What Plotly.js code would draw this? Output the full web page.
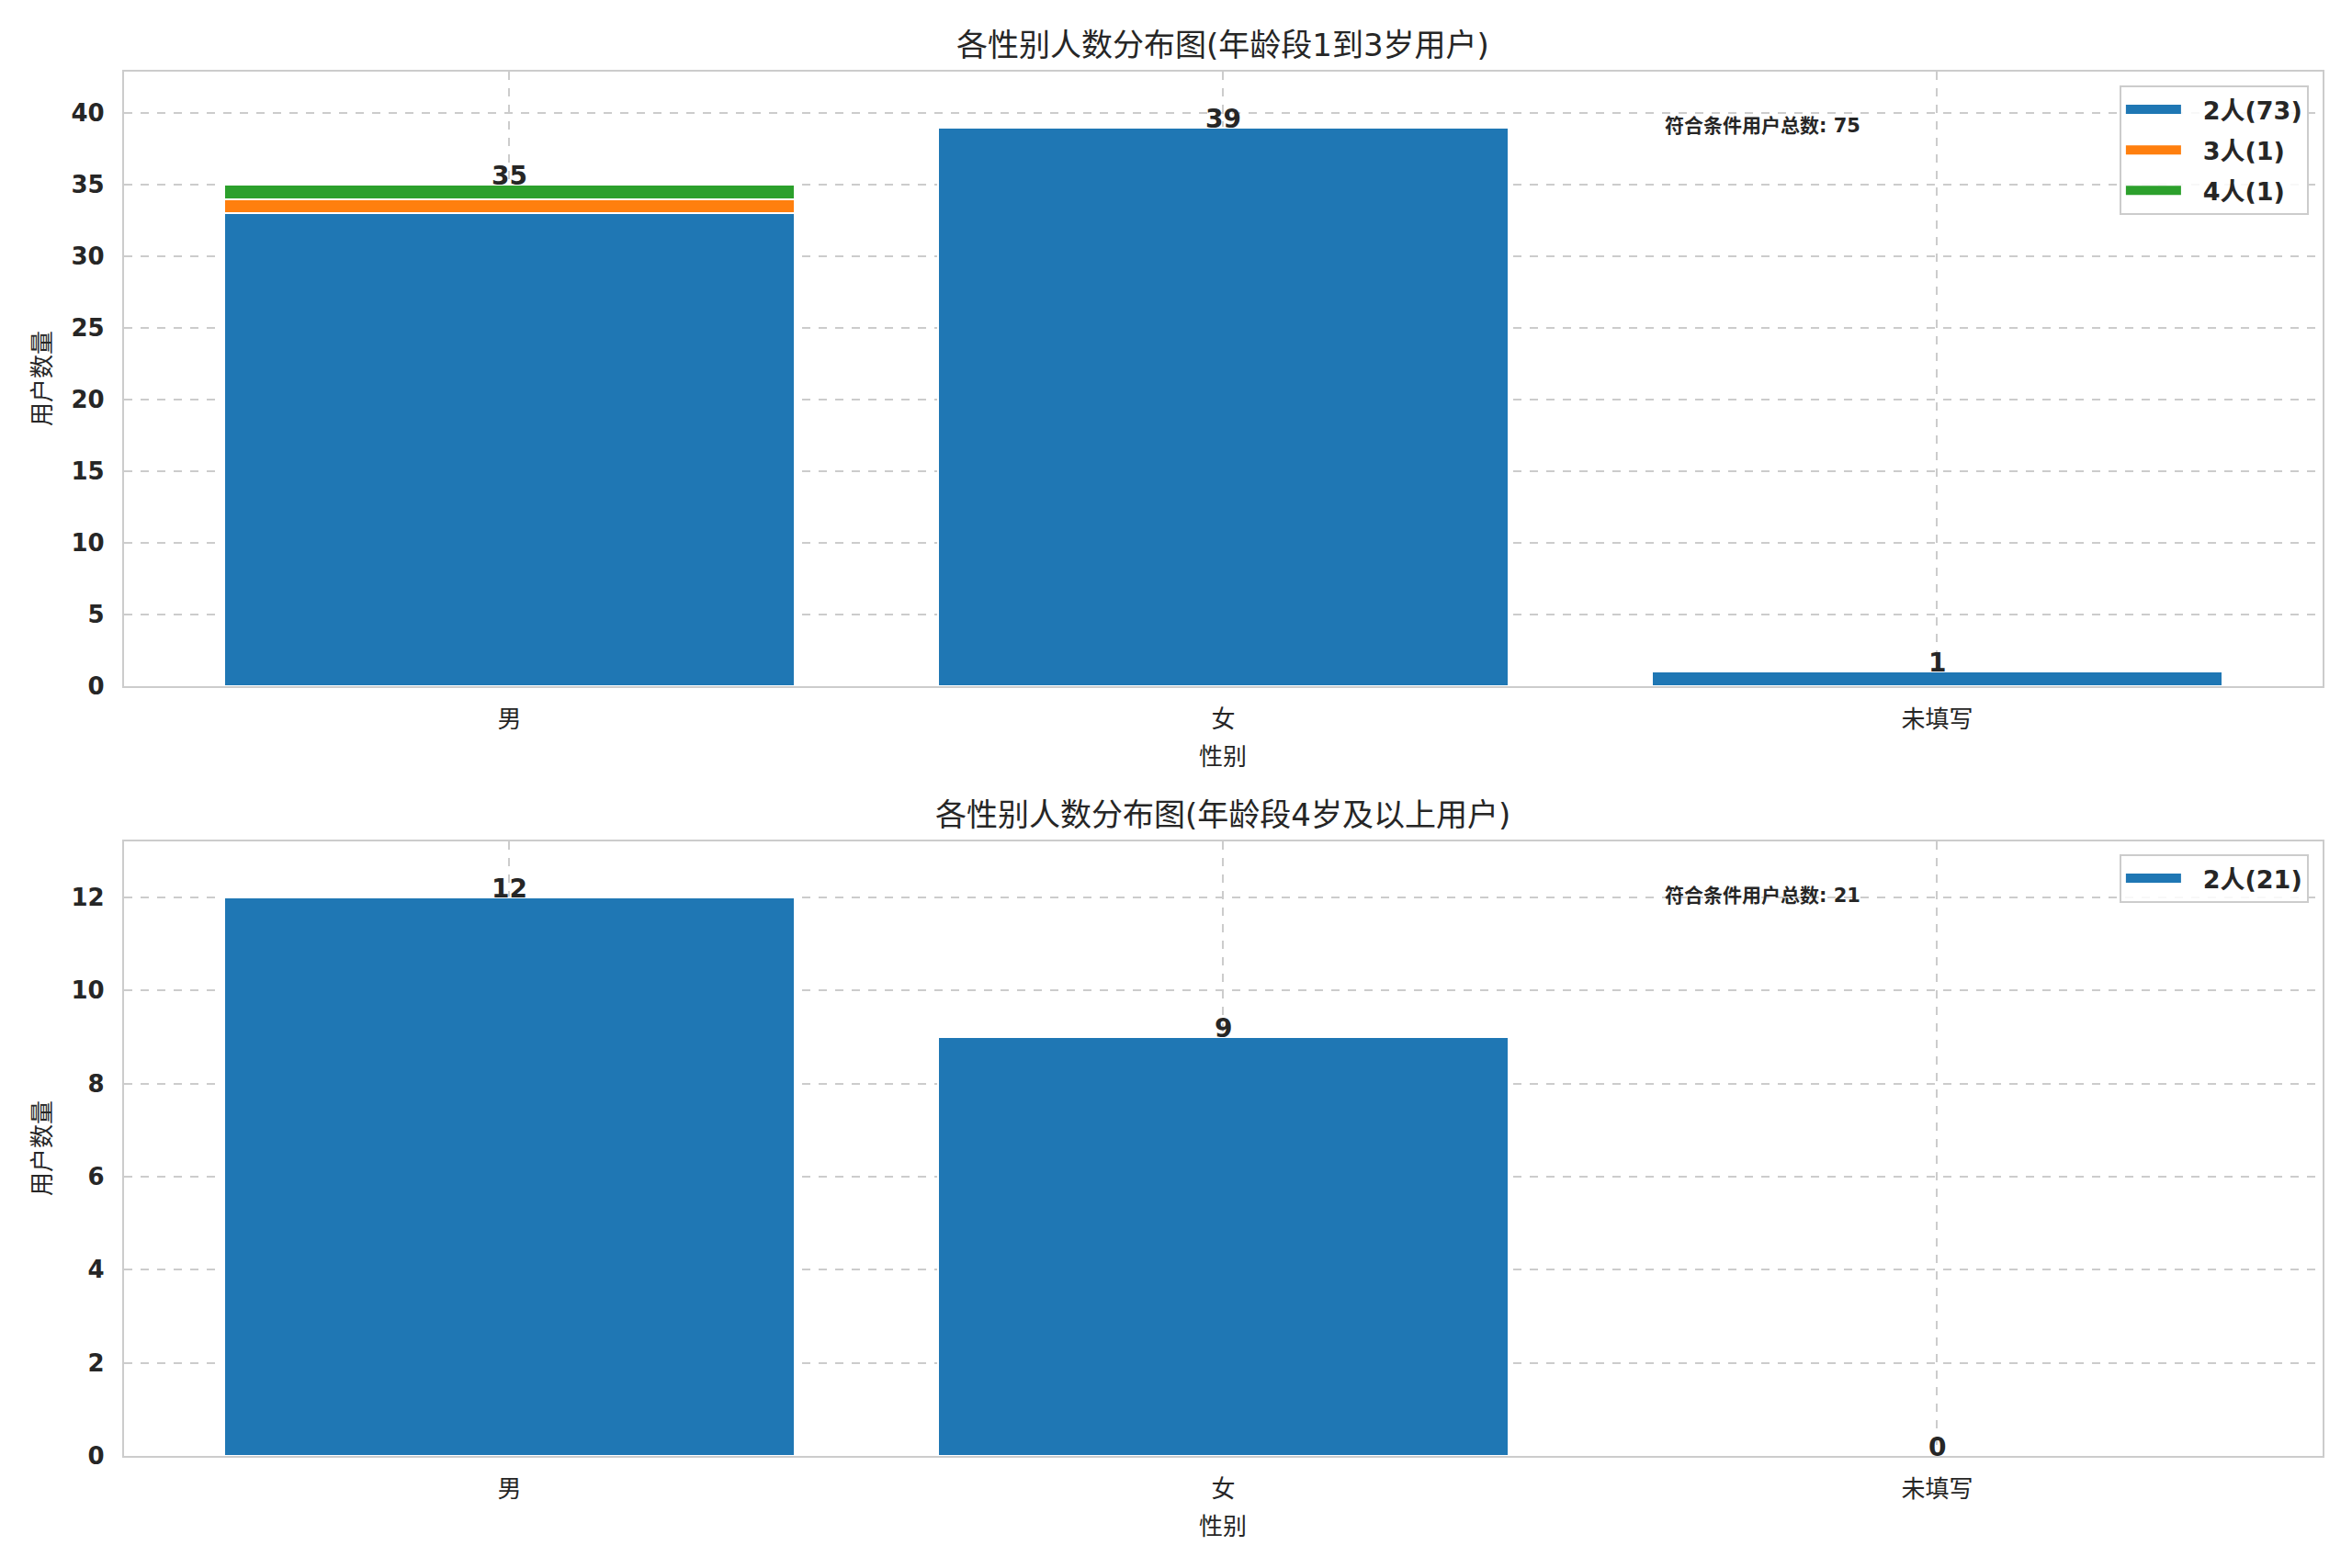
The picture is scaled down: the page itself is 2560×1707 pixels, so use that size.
<!DOCTYPE html>
<html>
<head>
<meta charset="utf-8">
<script src="https://cdn.plot.ly/plotly-3.0.1.min.js"></script>
<style>html,body{margin:0;padding:0;background:#fff;}#chart{width:2560px;height:1707px;}</style>
</head>
<body>
<div id="chart"></div>
<script>
// ---- data ----
const categories = ["男", "女", "未填写"];
const seriesNames = ["2人", "3人", "4人"];
// top panel (1-3)
const topTwo = [33, 39, 1];
const topThree = [1, 0, 0];
const topFour = [1, 0, 0];
// bottom panel (4+)
const bottomTwo = [12, 9, 0];
const titleTop = "各性别人数分布图(年龄段1到3岁用户)";
const titleBottom = "各性别人数分布图(年龄段4岁及以上用户)";
const xLabel = "性别";
const yLabel = "用户数量";
const totalLabel = "符合条件用户总数";
const colors = ["#1f77b4", "#ff7f0e", "#2ca02c"];

const sum = a => a.reduce((s, v) => s + v, 0);
const FONT = "DejaVu Sans, Noto Sans CJK SC, sans-serif";
const CJK = "Noto Sans CJK SC, DejaVu Sans, sans-serif";
const TXT = "#262626";
const PAD = "\u00A0\u00A0";

const topSeries = [topTwo, topThree, topFour];
const traces = [];
topSeries.forEach((vals, i) => {
  traces.push({
    type: "bar", x: categories, y: vals, xaxis: "x", yaxis: "y",
    name: seriesNames[i] + "(" + sum(vals) + ")", showlegend: false,
    marker: {color: colors[i], line: {color: "#ffffff", width: 2}},
    width: 0.8, hoverinfo: "none"
  });
});
traces.push({
  type: "bar", x: categories, y: bottomTwo, xaxis: "x2", yaxis: "y2",
  name: seriesNames[0] + "(" + sum(bottomTwo) + ")", showlegend: false,
  marker: {color: colors[0], line: {color: "#ffffff", width: 2}},
  width: 0.8, hoverinfo: "none"
});
// legend entries (rectangular patches drawn as thick legend lines)
topSeries.forEach((vals, i) => {
  traces.push({
    type: "scatter", mode: "lines", x: [null], y: [null], xaxis: "x", yaxis: "y",
    name: PAD + seriesNames[i] + "(" + sum(vals) + ")", legend: "legend", legendgroup: "g" + i,
    line: {color: colors[i], width: 17}, hoverinfo: "none"
  });
});
traces.push({
  type: "scatter", mode: "lines", x: [null], y: [null], xaxis: "x2", yaxis: "y2",
  name: PAD + seriesNames[0] + "(" + sum(bottomTwo) + ")", legend: "legend2", legendgroup: "b0",
  line: {color: colors[0], width: 17}, hoverinfo: "none"
});

const topTotals = categories.map((c, j) => topSeries.reduce((s, a) => s + a[j], 0));
const bottomTotals = bottomTwo.slice();

const annotations = [];
topTotals.forEach((t, j) => annotations.push({
  xref: "x", yref: "y", x: categories[j], y: t, text: String(t), showarrow: false,
  yanchor: "bottom", yshift: -9, font: {family: FONT, size: 28, color: TXT, weight: "bold"}
}));
bottomTotals.forEach((t, j) => annotations.push({
  xref: "x2", yref: "y2", x: categories[j], y: t, text: String(t), showarrow: false,
  yanchor: "bottom", yshift: -9, font: {family: FONT, size: 28, color: TXT, weight: "bold"}
}));
// total-count notes
annotations.push({xref: "x domain", yref: "y domain", x: 0.70, y: 0.912, xanchor: "left", yanchor: "middle",
  text: totalLabel + ": " + sum(topTotals), showarrow: false, font: {family: FONT, size: 21, color: TXT, weight: "bold"}});
annotations.push({xref: "x2 domain", yref: "y2 domain", x: 0.70, y: 0.912, xanchor: "left", yanchor: "middle",
  text: totalLabel + ": " + sum(bottomTotals), showarrow: false, font: {family: FONT, size: 21, color: TXT, weight: "bold"}});
// titles
const xMid = (0.0527 + 0.9875) / 2;
annotations.push({xref: "paper", yref: "paper", x: xMid, y: 0.9713, yanchor: "middle", text: titleTop, showarrow: false,
  font: {family: FONT, size: 34, color: TXT}});
annotations.push({xref: "paper", yref: "paper", x: xMid, y: 0.4804, yanchor: "middle", text: titleBottom, showarrow: false,
  font: {family: FONT, size: 34, color: TXT}});
// axis titles
annotations.push({xref: "paper", yref: "paper", x: xMid, y: 0.519, yanchor: "middle", text: xLabel, showarrow: false,
  font: {family: CJK, size: 26, color: TXT}});
annotations.push({xref: "paper", yref: "paper", x: xMid, y: 0.0281, yanchor: "middle", text: xLabel, showarrow: false,
  font: {family: CJK, size: 26, color: TXT}});
annotations.push({xref: "paper", yref: "paper", x: 0.017, y: (0.5624 + 0.9543) / 2, textangle: -90, xanchor: "center", yanchor: "middle",
  text: yLabel, showarrow: false, font: {family: CJK, size: 26, color: TXT}});
annotations.push({xref: "paper", yref: "paper", x: 0.017, y: (0.0715 + 0.4634) / 2, textangle: -90, xanchor: "center", yanchor: "middle",
  text: yLabel, showarrow: false, font: {family: CJK, size: 26, color: TXT}});

const xCommon = {
  type: "category", range: [-0.54, 2.54], showgrid: true, gridcolor: "#cccccc", griddash: "dash", gridwidth: 2,
  showline: true, linecolor: "#cccccc", linewidth: 2, mirror: true, ticks: "", ticklabelstandoff: 12,
  tickfont: {family: CJK, size: 26, color: TXT}, zeroline: false, fixedrange: true
};
const yCommon = {
  showgrid: true, gridcolor: "#cccccc", griddash: "dash", gridwidth: 2,
  showline: true, linecolor: "#cccccc", linewidth: 2, mirror: true, ticks: "", ticklabelstandoff: 14,
  tickfont: {family: FONT, size: 26, color: TXT, weight: "bold"}, zeroline: false, fixedrange: true
};
const legendCommon = {
  xref: "paper", yref: "paper", xanchor: "right", yanchor: "top", bgcolor: "rgba(255,255,255,0.85)",
  bordercolor: "#cccccc", borderwidth: 2, font: {family: FONT, size: 27, color: TXT, weight: "bold"},
  itemwidth: 60, tracegroupgap: 6, traceorder: "grouped"
};

const layout = {
  width: 2560, height: 1707, margin: {l: 0, r: 0, t: 0, b: 0},
  paper_bgcolor: "#ffffff", plot_bgcolor: "#ffffff", barmode: "stack", bargap: 0.2,
  font: {family: FONT, color: TXT},
  showlegend: true,
  xaxis: Object.assign({}, xCommon, {domain: [0.0527, 0.9875], anchor: "y"}),
  yaxis: Object.assign({}, yCommon, {domain: [0.5624, 0.9543], range: [0, Math.max(...topTotals) * 1.1], dtick: 5, anchor: "x"}),
  xaxis2: Object.assign({}, xCommon, {domain: [0.0527, 0.9875], anchor: "y2"}),
  yaxis2: Object.assign({}, yCommon, {domain: [0.0715, 0.4634], range: [0, Math.max(...bottomTotals) * 1.1], dtick: 2, anchor: "x2"}),
  legend: Object.assign({}, legendCommon, {x: 0.9816, y: 0.9455}),
  legend2: Object.assign({}, legendCommon, {x: 0.9816, y: 0.4552}),
  annotations: annotations
};

Plotly.newPlot("chart", traces, layout, {displayModeBar: false, staticPlot: true});
</script>
</body>
</html>
